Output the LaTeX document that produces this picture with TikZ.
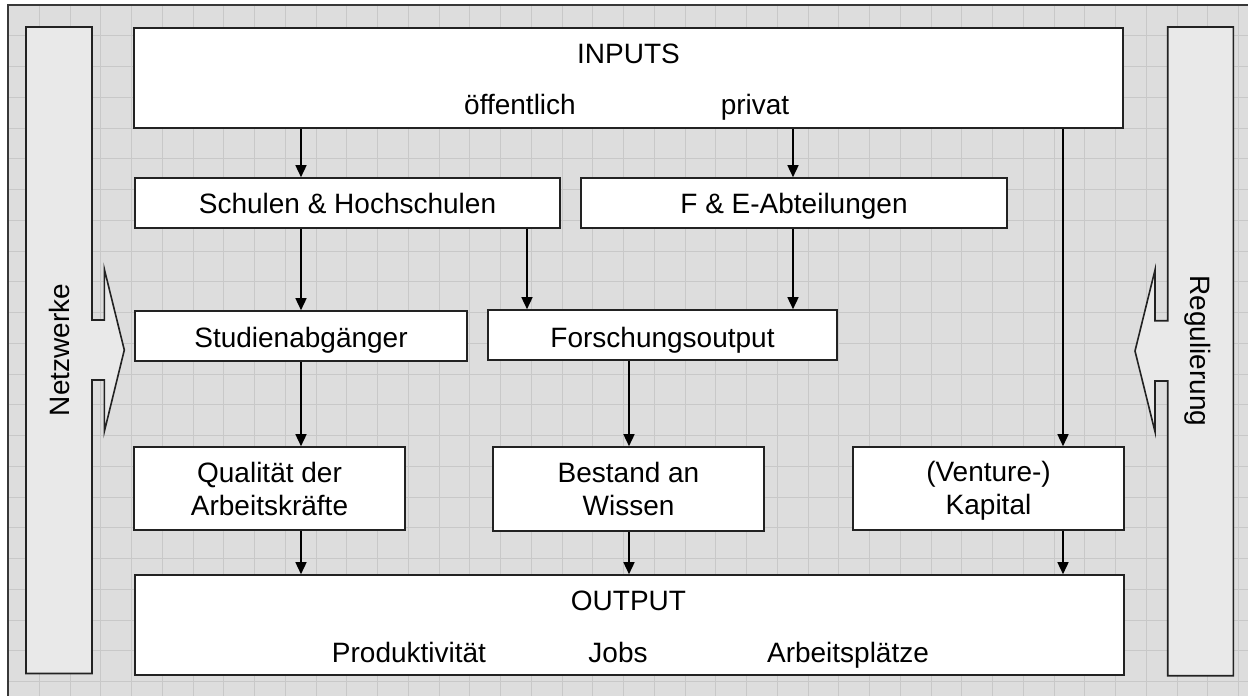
\documentclass[tikz,border=0pt]{standalone}
\usepackage{fontspec}
\setmainfont{Liberation Sans}
\usetikzlibrary{arrows.meta}
\definecolor{bg}{HTML}{DDDDDD}
\definecolor{gridc}{HTML}{C8C8C8}
\definecolor{side}{HTML}{E9E9E9}
\definecolor{edge}{HTML}{222222}
\newcommand{\lnstrut}{\rule[-5pt]{0pt}{30pt}}
\begin{document}
\begin{tikzpicture}[x=1pt,y=-1pt,
  box/.style={draw=edge,line width=1.6pt,fill=white,inner sep=0pt,
    font=\fontsize{28}{33}\selectfont,align=center},
  onebox/.style={box,text height=21pt,text depth=0pt},
  lbl/.style={font=\fontsize{28}{33}\selectfont,inner sep=0pt,text height=21pt,text depth=0pt},
  rlbl/.style={font=\fontsize{28}{33}\selectfont,inner sep=0pt},
  arr/.style={line width=1.5pt,-{Triangle[width=11pt,length=12pt]}},
  sideshape/.style={draw=edge,line width=1.6pt,fill=side,line join=miter}]
\useasboundingbox (0,0) rectangle (1248,696);
\fill[white] (0,0) rectangle (1248,696);
\fill[bg] (8,5) rectangle (1248,696);
\begin{scope}
  \clip (8,5) rectangle (1248,696);
  \foreach \i in {1,...,40} \draw[gridc,line width=1pt] (8.5+30.75*\i,5) -- (8.5+30.75*\i,696);
  \foreach \j in {1,...,22} \draw[gridc,line width=1pt] (8,5+30.75*\j) -- (1248,5+30.75*\j);
\end{scope}
\draw[edge!90,line width=2pt] (8,700) -- (8,5) -- (1252,5);

% side shapes
\draw[sideshape] (26,27) -- (92,27) -- (92,320) -- (104.3,320) -- (104.3,269)
  -- (124.3,350) -- (104.3,431.7) -- (104.3,380) -- (92,380) -- (92,673.5)
  -- (26,673.5) -- cycle;
\draw[sideshape] (1233.3,27) -- (1167.7,27) -- (1167.7,320.7) -- (1155,320.7)
  -- (1155,270) -- (1135,351) -- (1155,431.7) -- (1155,381) -- (1167.7,381)
  -- (1167.7,675.7) -- (1233.3,675.7) -- cycle;
\node[rlbl,rotate=90] (netz) at (59,350) {Netzwerke};
\node[rlbl,rotate=-90] (regul) at (1198,351) {Regulierung};

% boxes
\node[box,minimum width=989pt,minimum height=100pt] (inputs) at (628.5,78) {};
\node[lbl] (inputsT) at (628.5,52.5) {INPUTS};
\node[lbl] (oeff) at (520,103.5) {öffentlich};
\node[lbl] (priv) at (755,103.5) {privat};

\node[onebox,minimum width=425pt,minimum height=50pt] (schulen) at (347.5,203) {Schulen \& Hochschulen};
\node[onebox,minimum width=426pt,minimum height=50pt] (fe) at (794,203) {F \& E-Abteilungen};
\node[onebox,text height=22.5pt,minimum width=332pt,minimum height=50pt] (studien) at (301,336) {Studienabgänger};
\node[onebox,text height=24.5pt,minimum width=349pt,minimum height=50pt] (forsch) at (662.5,335) {Forschungsoutput};
\node[box,minimum width=271pt,minimum height=83pt] (qual) at (269.5,488.5) {\lnstrut Qualität der\\\lnstrut Arbeitskräfte};
\node[box,minimum width=271pt,minimum height=84pt] (bestand) at (628.5,489) {\lnstrut Bestand an\\\lnstrut Wissen};
\node[box,minimum width=271pt,minimum height=83pt] (venture) at (988.5,488.5) {\lnstrut (Venture-)\\\lnstrut Kapital};

\node[box,minimum width=989pt,minimum height=100pt] (output) at (629.5,625) {};
\node[lbl] (outputT) at (628.5,600) {OUTPUT};
\node[lbl] (prod) at (409,651.5) {Produktivität};
\node[lbl] (jobs) at (618,651.5) {Jobs};
\node[lbl] (plaetze) at (848,651.5) {Arbeitsplätze};

% connector columns
\coordinate (cA) at (301,0);
\coordinate (cB) at (527,0);
\coordinate (cC) at (793,0);
\coordinate (cD) at (629,0);
\coordinate (cE) at (1063,0);

\draw[arr] (inputs.south -| cA) -- (schulen.north -| cA);
\draw[arr] (inputs.south -| cC) -- (fe.north -| cC);
\draw[arr] (inputs.south -| cE) -- (venture.north -| cE);
\draw[arr] (schulen.south -| cA) -- (studien.north -| cA);
\draw[arr] (schulen.south -| cB) -- (forsch.north -| cB);
\draw[arr] (fe.south -| cC) -- (forsch.north -| cC);
\draw[arr] (studien.south -| cA) -- (qual.north -| cA);
\draw[arr] (forsch.south -| cD) -- (bestand.north -| cD);
\draw[arr] (qual.south -| cA) -- (output.north -| cA);
\draw[arr] (bestand.south -| cD) -- (output.north -| cD);
\draw[arr] (venture.south -| cE) -- (output.north -| cE);
\end{tikzpicture}
\end{document}
